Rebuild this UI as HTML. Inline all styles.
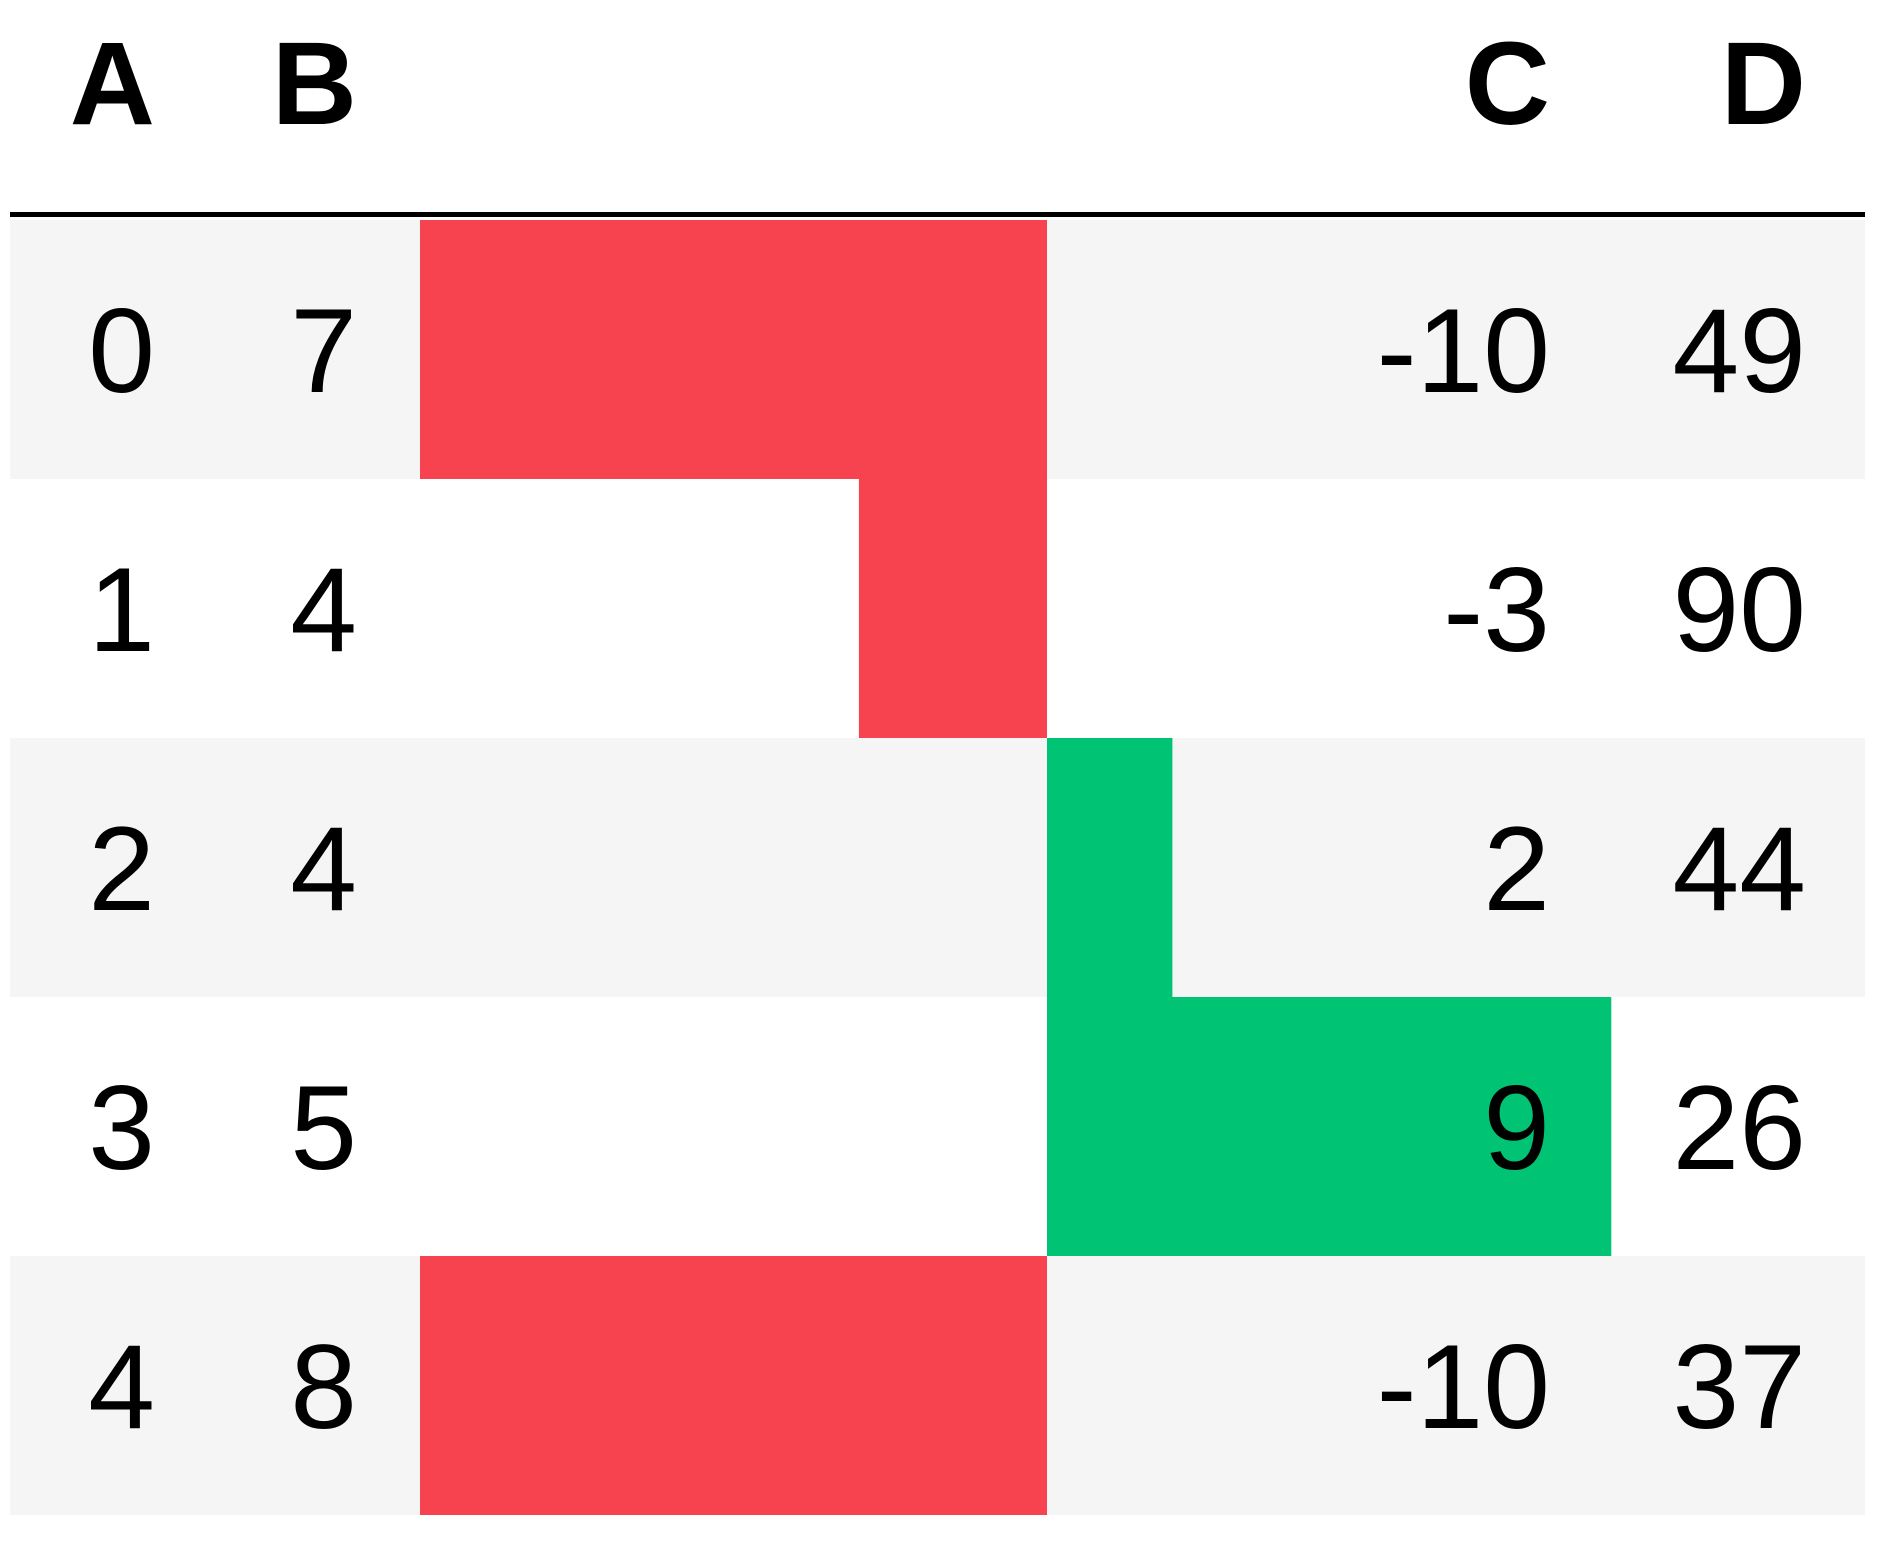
<!DOCTYPE html>
<html><head><meta charset="utf-8"><style>
html,body{margin:0;padding:0;background:#fff;}
svg{display:block;font-family:"Liberation Sans",Arial,sans-serif;}
</style></head><body>
<svg id="chart" width="1890" height="1562" viewBox="0 0 1890 1562" xmlns="http://www.w3.org/2000/svg"></svg>
<script>
const colA = [0, 1, 2, 3, 4];
const colB = [7, 4, 4, 5, 8];
const colC = [-10, -3, 2, 9, -10];
const colD = [49, 90, 44, 26, 37];
const headers = ["A", "B", "C", "D"];

const NS = "http://www.w3.org/2000/svg";
const svg = document.getElementById("chart");
const tableLeft = 10, tableRight = 1865;
const rowTop0 = 220, rowH = 259;
const barZero = 1047, unitPx = 62.7;
function xScale(v){ return barZero + v * unitPx; }
function rowY(i){ return rowTop0 + i * rowH; }
function mk(tag, attrs){ const e = document.createElementNS(NS, tag); for (const k in attrs) e.setAttribute(k, attrs[k]); svg.appendChild(e); return e; }

for (let i = 0; i < colA.length; i++) {
  if (i % 2 === 0) {
    const r = mk("rect", {x: tableLeft, y: rowY(i), width: tableRight - tableLeft, height: rowH, fill: "#f5f5f5"});
    
    
  }
}
for (let i = 0; i < colC.length; i++) {
  const v = colC[i];
  const x0 = Math.min(xScale(0), xScale(v)), x1 = Math.max(xScale(0), xScale(v));
  const b = mk("rect", {x: x0, y: rowY(i), width: x1 - x0, height: rowH, fill: v < 0 ? "#f7434f" : "#00c473"});
  
  
}
const hl = mk("rect", {x: tableLeft, y: 212, width: tableRight - tableLeft, height: 5, fill: "#000"});



const colX = [155, 357, 1550, 1806];
for (let c = 0; c < headers.length; c++) {
  const t = mk("text", {x: colX[c], y: 124, "text-anchor": "end", "font-size": 118, "font-weight": "bold", fill: "#000"});
  t.textContent = headers[c];
  
  
}
const cols = [colA, colB, colC, colD];
for (let i = 0; i < colA.length; i++) {
  for (let c = 0; c < cols.length; c++) {
    const t = mk("text", {x: colX[c], y: rowY(i) + 172, "text-anchor": "end", "font-size": 120, fill: "#000"});
    t.textContent = String(cols[c][i]);
    
    
  }
}
</script>
</body></html>
